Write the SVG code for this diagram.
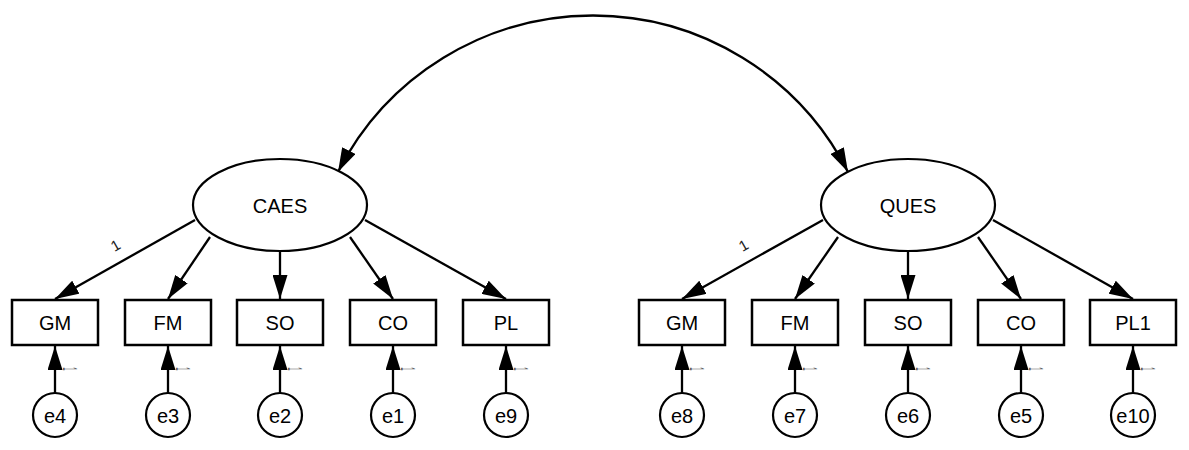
<svg xmlns="http://www.w3.org/2000/svg" width="1189" height="450" viewBox="0 0 1189 450">
<defs>
<style>
.box{fill:#fff;stroke:#000;stroke-width:2.5}
.lat{fill:#fff;stroke:#000;stroke-width:2.2}
.err{fill:#fff;stroke:#000;stroke-width:2.2}
.lbl{font-family:"Liberation Sans",Arial,sans-serif;font-size:20px;fill:#000;text-anchor:middle;dominant-baseline:central}
.edge{fill:none;stroke:#000;stroke-width:2.3;marker-end:url(#ah)}
.w{font-family:"Liberation Sans",Arial,sans-serif;font-size:15px;fill:#222;text-anchor:middle}
.sw{font-family:"Liberation Sans",Arial,sans-serif;font-size:20px;fill:#555;text-anchor:middle}
</style>
<marker id="ah" markerUnits="userSpaceOnUse" markerWidth="24" markerHeight="15" refX="24" refY="7.5" orient="auto-start-reverse">
<path d="M0,0 L24,7.5 L0,15 z" fill="#000"/>
</marker>
</defs>
<rect width="1189" height="450" fill="#fff"/>
<g id="connectors">
<path class="edge" d="M338,172 A286,286 0 0 1 848,172" style="marker-start:url(#ah)"/>
<line class="edge" x1="195" y1="220" x2="55" y2="299"/>
<line class="edge" x1="210" y1="237" x2="168" y2="299"/>
<line class="edge" x1="280" y1="251" x2="280" y2="299"/>
<line class="edge" x1="350" y1="237" x2="393" y2="299"/>
<line class="edge" x1="365" y1="220" x2="506" y2="299"/>
<line class="edge" x1="823" y1="220" x2="682" y2="299"/>
<line class="edge" x1="838" y1="237" x2="795" y2="299"/>
<line class="edge" x1="908" y1="251" x2="908" y2="299"/>
<line class="edge" x1="978" y1="237" x2="1021" y2="299"/>
<line class="edge" x1="993" y1="220" x2="1133" y2="299"/>
<line class="edge" x1="55" y1="393" x2="55" y2="346"/>
<line class="edge" x1="168" y1="393" x2="168" y2="346"/>
<line class="edge" x1="280" y1="393" x2="280" y2="346"/>
<line class="edge" x1="393" y1="393" x2="393" y2="346"/>
<line class="edge" x1="506" y1="393" x2="506" y2="346"/>
<line class="edge" x1="682" y1="393" x2="682" y2="346"/>
<line class="edge" x1="795" y1="393" x2="795" y2="346"/>
<line class="edge" x1="908" y1="393" x2="908" y2="346"/>
<line class="edge" x1="1021" y1="393" x2="1021" y2="346"/>
<line class="edge" x1="1133" y1="393" x2="1133" y2="346"/>
<text class="w" transform="translate(118,250) rotate(-30)">1</text>
<text class="w" transform="translate(746,250) rotate(-30)">1</text>
<text class="sw" transform="translate(63,369) rotate(90) scale(0.3,1)">1</text>
<text class="sw" transform="translate(176,369) rotate(90) scale(0.3,1)">1</text>
<text class="sw" transform="translate(288,369) rotate(90) scale(0.3,1)">1</text>
<text class="sw" transform="translate(401,369) rotate(90) scale(0.3,1)">1</text>
<text class="sw" transform="translate(514,369) rotate(90) scale(0.3,1)">1</text>
<text class="sw" transform="translate(690,369) rotate(90) scale(0.3,1)">1</text>
<text class="sw" transform="translate(803,369) rotate(90) scale(0.3,1)">1</text>
<text class="sw" transform="translate(916,369) rotate(90) scale(0.3,1)">1</text>
<text class="sw" transform="translate(1029,369) rotate(90) scale(0.3,1)">1</text>
<text class="sw" transform="translate(1141,369) rotate(90) scale(0.3,1)">1</text>
</g>
<g id="CAES"><ellipse class="lat" cx="280" cy="205" rx="87" ry="46"/><text class="lbl" x="280" y="206">CAES</text></g>
<g id="QUES"><ellipse class="lat" cx="908" cy="205" rx="87" ry="46"/><text class="lbl" x="908" y="206">QUES</text></g>
<g id="GM1"><rect class="box" x="12" y="300" width="86" height="45"/><text class="lbl" x="55" y="323">GM</text></g>
<g id="FM1"><rect class="box" x="125" y="300" width="86" height="45"/><text class="lbl" x="168" y="323">FM</text></g>
<g id="SO1"><rect class="box" x="237" y="300" width="86" height="45"/><text class="lbl" x="280" y="323">SO</text></g>
<g id="CO1"><rect class="box" x="350" y="300" width="86" height="45"/><text class="lbl" x="393" y="323">CO</text></g>
<g id="PL"><rect class="box" x="463" y="300" width="86" height="45"/><text class="lbl" x="506" y="323">PL</text></g>
<g id="GM2"><rect class="box" x="639" y="300" width="86" height="45"/><text class="lbl" x="682" y="323">GM</text></g>
<g id="FM2"><rect class="box" x="752" y="300" width="86" height="45"/><text class="lbl" x="795" y="323">FM</text></g>
<g id="SO2"><rect class="box" x="865" y="300" width="86" height="45"/><text class="lbl" x="908" y="323">SO</text></g>
<g id="CO2"><rect class="box" x="978" y="300" width="86" height="45"/><text class="lbl" x="1021" y="323">CO</text></g>
<g id="PL1"><rect class="box" x="1090" y="300" width="86" height="45"/><text class="lbl" x="1133" y="323">PL1</text></g>
<g id="e4"><circle class="err" cx="55" cy="415" r="22"/><text class="lbl" x="55" y="416">e4</text></g>
<g id="e3"><circle class="err" cx="168" cy="415" r="22"/><text class="lbl" x="168" y="416">e3</text></g>
<g id="e2"><circle class="err" cx="280" cy="415" r="22"/><text class="lbl" x="280" y="416">e2</text></g>
<g id="e1"><circle class="err" cx="393" cy="415" r="22"/><text class="lbl" x="393" y="416">e1</text></g>
<g id="e9"><circle class="err" cx="506" cy="415" r="22"/><text class="lbl" x="506" y="416">e9</text></g>
<g id="e8"><circle class="err" cx="682" cy="415" r="22"/><text class="lbl" x="682" y="416">e8</text></g>
<g id="e7"><circle class="err" cx="795" cy="415" r="22"/><text class="lbl" x="795" y="416">e7</text></g>
<g id="e6"><circle class="err" cx="908" cy="415" r="22"/><text class="lbl" x="908" y="416">e6</text></g>
<g id="e5"><circle class="err" cx="1021" cy="415" r="22"/><text class="lbl" x="1021" y="416">e5</text></g>
<g id="e10"><circle class="err" cx="1133" cy="415" r="22"/><text class="lbl" x="1133" y="416">e10</text></g>
</svg>
